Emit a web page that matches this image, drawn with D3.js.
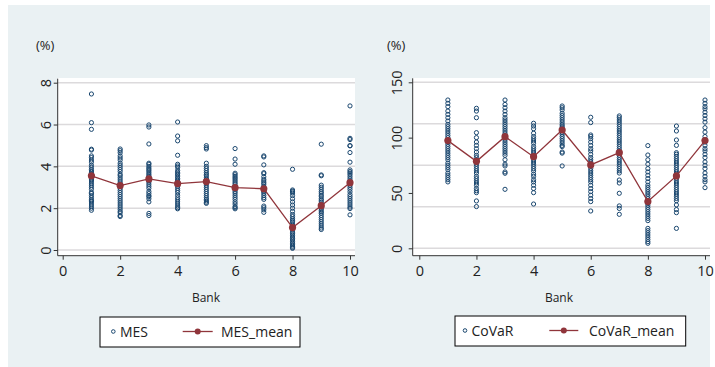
<!DOCTYPE html>
<html>
<head>
<meta charset="utf-8">
<script src="https://d3js.org/d3.v7.min.js"></script>
<style>
  body { margin: 0; background: #fff; }
  text { font-family: "Open Sans", "DejaVu Sans", sans-serif; fill: #222; }
</style>
</head>
<body>
<svg id="chart" width="715" height="367"></svg>
<script>
const banks = [1, 2, 3, 4, 5, 6, 7, 8, 9, 10];
const xTicks = [0, 2, 4, 6, 8, 10];

// MES observations per bank (%)
const mes = [
  [7.46, 6.09, 5.77, 4.82, 4.78, 4.5, 4.42, 4.3, 4.2, 4.05, 3.95, 3.85, 3.78, 3.72, 3.65, 3.6, 3.55, 3.48, 3.4, 3.35, 3.3, 3.2, 3.1, 3.0, 2.9, 2.75, 2.7, 2.6, 2.5, 2.4, 2.35, 2.3, 2.2, 2.1, 2.0, 1.9],
  [4.83, 4.75, 4.65, 4.5, 4.4, 4.3, 4.15, 4.05, 3.95, 3.85, 3.75, 3.62, 3.55, 3.45, 3.35, 3.25, 3.15, 3.05, 2.95, 2.85, 2.75, 2.65, 2.55, 2.45, 2.35, 2.25, 2.15, 2.05, 1.95, 1.85, 1.78, 1.65, 1.6],
  [5.98, 5.88, 5.07, 4.15, 4.1, 4.0, 3.92, 3.85, 3.78, 3.7, 3.62, 3.55, 3.48, 3.4, 3.32, 3.25, 3.15, 3.05, 2.95, 2.8, 2.7, 2.6, 2.55, 2.45, 2.3, 1.75, 1.65],
  [6.12, 5.45, 5.22, 4.53, 4.1, 4.02, 3.95, 3.8, 3.72, 3.65, 3.58, 3.5, 3.42, 3.35, 3.28, 3.2, 3.12, 3.05, 2.95, 2.85, 2.75, 2.62, 2.5, 2.4, 2.3, 2.2, 2.1, 2.02, 1.97],
  [4.99, 4.9, 4.83, 4.15, 4.0, 3.9, 3.8, 3.7, 3.62, 3.55, 3.45, 3.38, 3.3, 3.2, 3.1, 3.0, 2.9, 2.8, 2.7, 2.6, 2.5, 2.42, 2.35, 2.28, 2.23],
  [4.85, 4.35, 4.1, 3.67, 3.6, 3.52, 3.45, 3.38, 3.3, 3.22, 3.15, 3.05, 2.98, 2.9, 2.8, 2.72, 2.62, 2.52, 2.42, 2.3, 2.2, 2.08, 2.02, 1.97],
  [4.5, 4.45, 4.07, 3.7, 3.65, 3.5, 3.38, 3.3, 3.22, 3.15, 3.05, 2.98, 2.9, 2.85, 2.78, 2.7, 2.6, 2.5, 2.42, 2.1, 2.02, 1.92, 1.8],
  [3.86, 2.87, 2.82, 2.78, 2.72, 2.6, 2.45, 2.3, 2.15, 2.0, 1.85, 1.7, 1.6, 1.5, 1.42, 1.35, 1.25, 1.15, 1.05, 0.95, 0.85, 0.78, 0.7, 0.62, 0.55, 0.48, 0.4, 0.32, 0.25, 0.18, 0.12, 0.08],
  [5.06, 3.59, 3.55, 3.1, 3.0, 2.9, 2.8, 2.72, 2.62, 2.55, 2.45, 2.38, 2.3, 2.2, 2.12, 2.05, 1.98, 1.9, 1.82, 1.75, 1.65, 1.55, 1.45, 1.35, 1.25, 1.15, 1.05, 0.98],
  [6.89, 5.34, 5.28, 4.99, 4.98, 4.66, 4.2, 3.83, 3.75, 3.68, 3.6, 3.5, 3.4, 3.3, 3.2, 3.1, 3.0, 2.9, 2.78, 2.65, 2.55, 2.45, 2.35, 2.25, 2.15, 2.05, 1.98, 1.68]
];
const mesMean = [3.55, 3.08, 3.40, 3.17, 3.27, 2.98, 2.93, 1.07, 2.12, 3.22];

// CoVaR observations per bank (%)
const covar = [
  [134, 131, 128, 124, 121, 118, 115, 112, 110, 108, 106, 104, 102, 100, 98, 96, 94, 92, 90, 88, 86, 84, 82, 80, 77, 75, 73, 71, 68, 66, 64, 62, 60],
  [126.5, 124, 118, 104.5, 100, 96, 93, 90, 87, 84, 82, 80, 78, 76, 74, 72, 70, 68, 65, 63, 61, 59, 57, 54, 52, 50.3, 42.8, 37.7],
  [134, 130, 127, 124, 121, 118, 116, 114, 112, 110, 108, 106, 104, 102, 100, 98, 96, 94, 92, 90, 88, 86, 84, 80, 76, 74.4, 69, 67.8, 53.3],
  [113, 110.5, 108, 104, 101, 99, 97, 95, 92, 90, 88, 86, 84, 82, 80, 78, 76, 74, 72, 70, 67, 65, 62, 60, 57, 54, 50.3, 40],
  [128.6, 127, 125, 122, 120, 118, 116, 114, 112, 110.5, 109, 107.5, 106, 104.5, 103, 101, 99, 97, 95, 93, 91.9, 87, 86, 74.4],
  [118.4, 113.6, 102.4, 101, 99, 96, 93, 90, 88, 85, 82, 80, 78, 76, 74, 72, 70, 68, 66, 64, 62, 60, 57, 54, 51.2, 48, 45, 42.2, 33.7],
  [119.6, 118, 116, 114, 112, 110, 108, 106, 104, 102, 100, 98, 96, 94, 92, 90, 88, 86, 84, 82, 80, 78, 76, 74, 72, 70, 68, 61.7, 59, 49.7, 38.3, 36, 30.7],
  [92.8, 84.3, 80, 76, 72, 69, 66, 63, 60, 57, 55, 53, 51, 49, 47, 45, 43, 41, 39, 37, 35, 33, 31, 29, 27, 25, 18, 16, 14, 12, 10, 8, 6, 4.5],
  [110.5, 106, 97.9, 93, 86.4, 85, 83, 81, 79, 77, 75, 73, 71, 69, 67, 65, 63, 61, 59, 57, 55, 53, 51, 49, 47, 45, 43, 39.2, 35, 32.2, 18],
  [134, 131, 128, 126, 123, 120, 117, 114, 109, 105, 101, 98, 96, 93, 90, 88, 85, 82, 78, 75, 72, 68, 65, 62, 60, 54.8]
];
const covarMean = [97.3, 78.6, 100.9, 82.8, 106.9, 75.3, 86.4, 42.2, 65.4, 97.3];

const mesTicks = [0, 2, 4, 6, 8];
const mesGrid = [0, 2, 4, 6, 8];
const covarTicks = [0, 50, 100, 150];
const covarGrid = [0, 37.5, 75, 112.5, 150];

const navy = "#1a476f", maroon = "#90353b";
const svg = d3.select("#chart");

// figure background
svg.append("rect").attr("x", 8).attr("y", 5).attr("width", 702).attr("height", 362).attr("fill", "#eaf1f3");

const drawPanel = (p) => {
  const g = svg.append("g");
  const x = d3.scaleLinear().domain([0, 10]).range(p.xr);
  const y = d3.scaleLinear().domain(p.yd).range(p.yr);

  // plot region
  g.append("rect").attr("x", p.left).attr("y", 78).attr("width", p.right - p.left).attr("height", 255.7 - 78).attr("fill", "#fff");

  g.selectAll(".grid").data(p.grid).join("line")
    .attr("x1", p.left).attr("x2", p.right)
    .attr("y1", d => y(d)).attr("y2", d => y(d))
    .attr("stroke", "#dcdadc").attr("stroke-width", 1.5);

  // y axis
  const ya = g.append("g").attr("transform", `translate(${p.left},0)`)
    .call(d3.axisLeft(y).tickValues(p.ticks).tickSize(4).tickSizeOuter(0).tickPadding(0));
  ya.select(".domain").attr("stroke", "#333").attr("d", `M0,${y(p.yd[1]) - 4}V255.7`);
  ya.selectAll(".tick line").attr("stroke", "#333");
  ya.selectAll(".tick text").remove();
  ya.selectAll(".tick").append("text")
    .attr("transform", `translate(${p.ylab - p.left},0) rotate(-90)`)
    .attr("text-anchor", "middle").attr("dy", "0.35em")
    .style("font-size", "14.5px").style("font-family", "'Open Sans', sans-serif").attr("fill", "#222")
    .text(d => d);

  // x axis
  const xa = g.append("g").attr("transform", "translate(0,255.7)")
    .call(d3.axisBottom(x).tickValues(xTicks).tickSize(4).tickSizeOuter(0).tickPadding(6));
  xa.select(".domain").attr("stroke", "#333").attr("d", `M${p.left},0H${p.right}`);
  xa.selectAll(".tick line").attr("stroke", "#333");
  xa.selectAll(".tick text").style("font-size", "14.5px").style("font-family", "'Open Sans', sans-serif").attr("fill", "#222");

  // scatter
  const pts = [];
  p.obs.forEach((arr, i) => arr.forEach(v => pts.push([banks[i], v])));
  g.selectAll(".pt").data(pts).join("circle")
    .attr("cx", d => x(d[0])).attr("cy", d => y(d[1])).attr("r", 2.1)
    .attr("fill", "none").attr("stroke", navy).attr("stroke-width", 1);

  // mean line
  const line = d3.line().x((d, i) => x(banks[i])).y(d => y(d));
  g.append("path").attr("d", line(p.mean)).attr("fill", "none").attr("stroke", maroon).attr("stroke-width", 1.3);
  g.selectAll(".mn").data(p.mean).join("circle")
    .attr("cx", (d, i) => x(banks[i])).attr("cy", d => y(d)).attr("r", 3.6).attr("fill", maroon);

  // titles
  g.append("text").attr("x", p.pctX).attr("y", 50).style("font-size", "13px").text("(%)");
  g.append("text").attr("x", p.bankX).attr("y", 301.5).attr("text-anchor", "middle").style("font-size", "12px").text("Bank");

  // legend
  const L = p.leg;
  g.append("rect").attr("x", L.x).attr("y", L.y).attr("width", L.w).attr("height", 30)
    .attr("fill", "#fff").attr("stroke", "#000").attr("stroke-width", 1);
  const cy = L.y + 14.5;
  g.append("circle").attr("cx", L.c).attr("cy", cy).attr("r", 1.8).attr("fill", "none").attr("stroke", navy).attr("stroke-width", 1);
  g.append("text").attr("x", L.t1).attr("y", cy + 5).style("font-size", "14px").text(L.n1);
  g.append("line").attr("x1", L.l1).attr("x2", L.l2).attr("y1", cy).attr("y2", cy).attr("stroke", maroon).attr("stroke-width", 1.3);
  g.append("circle").attr("cx", (L.l1 + L.l2) / 2).attr("cy", cy).attr("r", 3).attr("fill", maroon);
  g.append("text").attr("x", L.t2).attr("y", cy + 5).style("font-size", "14px").text(L.n2);
};

drawPanel({
  left: 57.7, right: 355, xr: [62.7, 350], yd: [0, 8], yr: [250, 82.7],
  ticks: mesTicks, grid: mesGrid, obs: mes, mean: mesMean, ylab: 45.5, pctX: 36, bankX: 206,
  leg: { x: 100, y: 317, w: 200, c: 113.3, t1: 120, n1: "MES", l1: 182.7, l2: 212.7, t2: 221, n2: "MES_mean" }
});

drawPanel({
  left: 412.7, right: 710, xr: [419.3, 705], yd: [0, 150], yr: [248.3, 82.3],
  ticks: covarTicks, grid: covarGrid, obs: covar, mean: covarMean, ylab: 397, pctX: 387, bankX: 559,
  leg: { x: 455, y: 316, w: 230.7, c: 465, t1: 471.5, n1: "CoVaR", l1: 549.3, l2: 578.3, t2: 589, n2: "CoVaR_mean" }
});
</script>
</body>
</html>
